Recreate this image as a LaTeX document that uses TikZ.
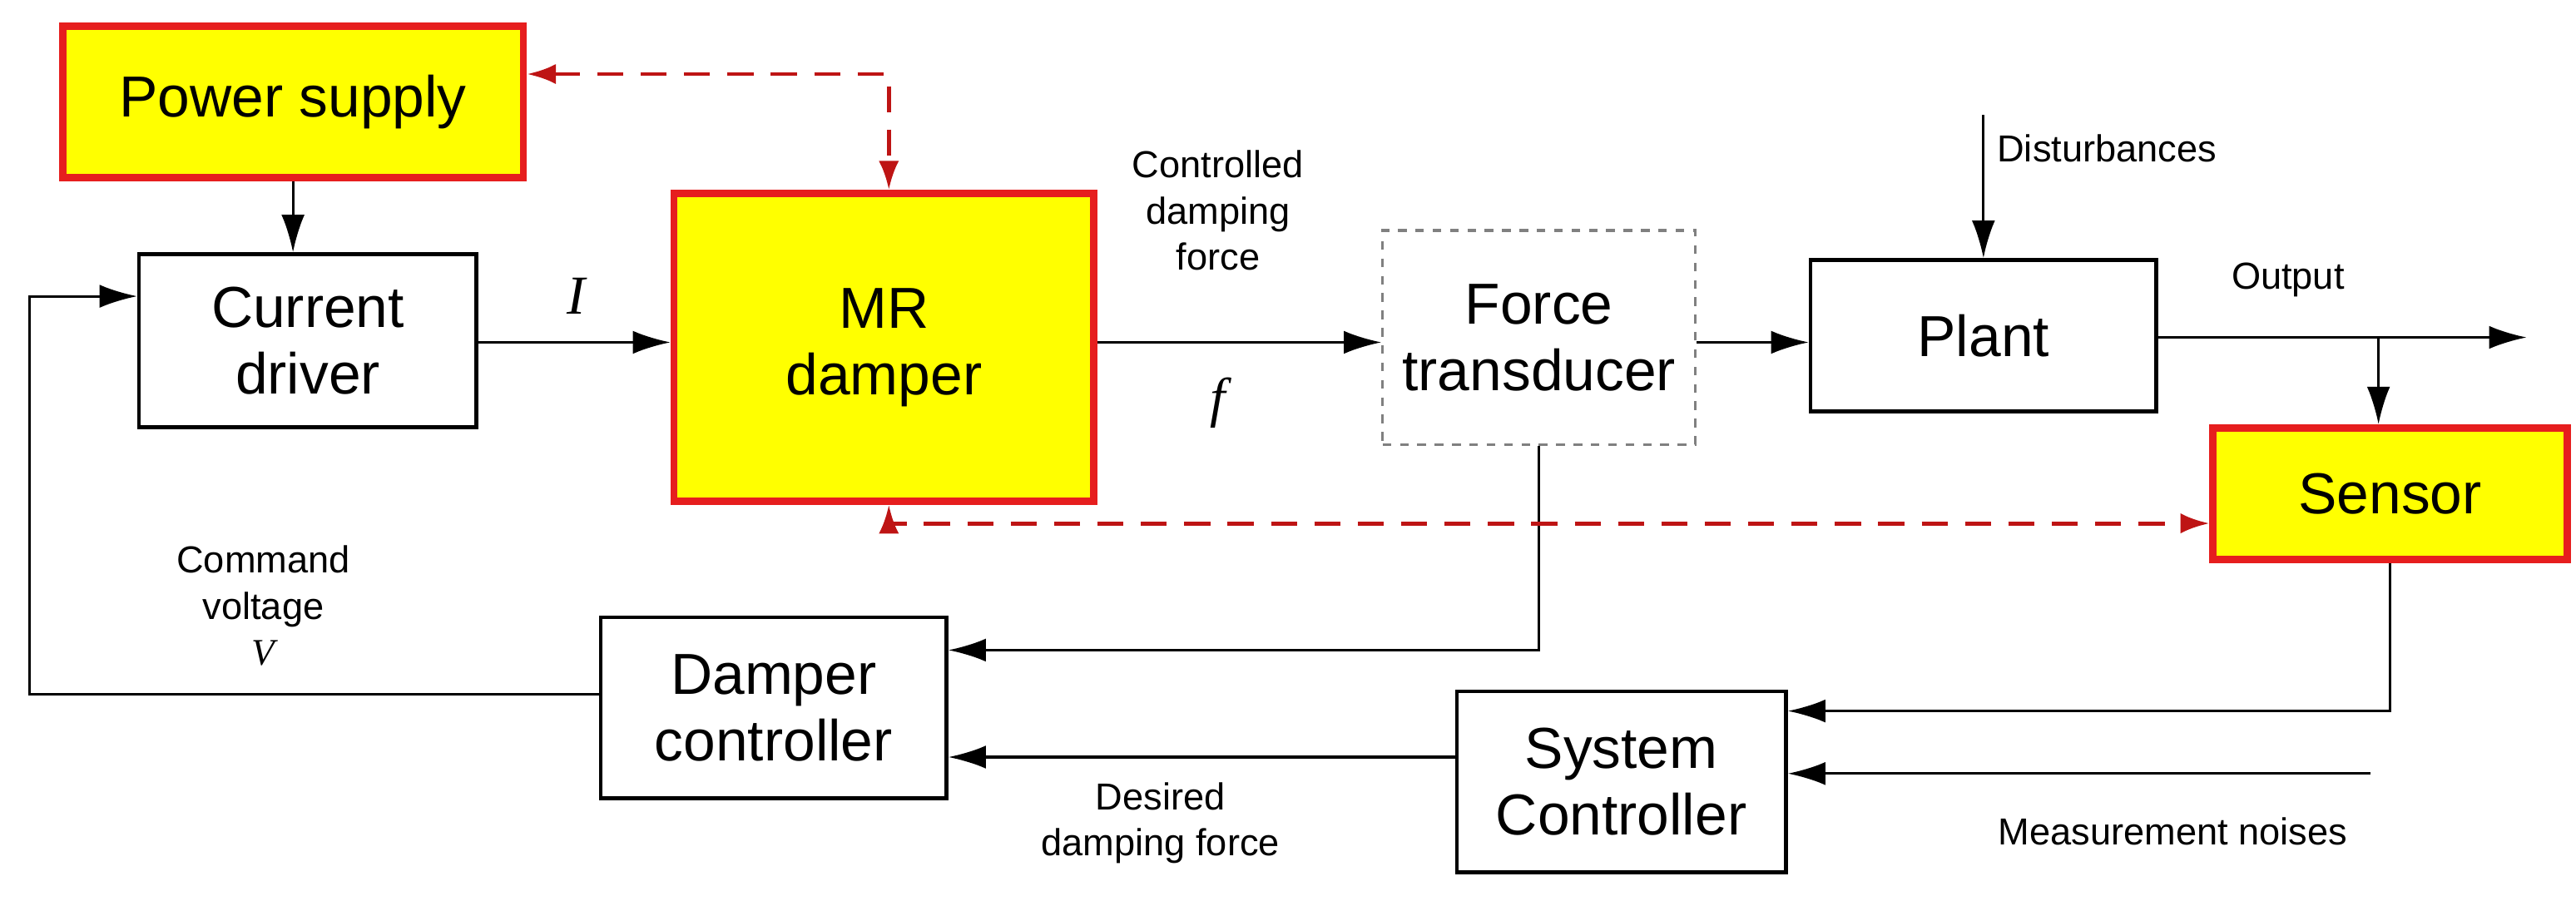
\documentclass[tikz,border=0pt]{standalone}
\usepackage{fontspec}
\setmainfont{Liberation Sans}
\usetikzlibrary{arrows.meta}
\definecolor{yel}{RGB}{255,255,0}
\definecolor{rd}{RGB}{230,30,30}
\definecolor{drd}{RGB}{190,20,20}
\begin{document}
\begin{tikzpicture}[x=0.02cm,y=-0.02cm,
 blk/.style={draw,line width=1.3pt,align=center,font=\fontsize{20}{23}\selectfont,inner sep=0},
 hl/.style={blk,fill=yel,draw=rd,line width=2.5pt},
 ln/.style={line width=0.9pt,-{Latex[length=13pt,width=8pt]}},
 rdl/.style={draw=drd,line width=1.4pt,dash pattern=on 9pt off 6pt,{Latex[length=10pt,width=7pt]}-{Latex[length=10pt,width=7pt]}},
 lab/.style={font=\fontsize{13}{16}\selectfont,align=center}]
\useasboundingbox (0,0) rectangle (1565,550);
\node[hl,minimum width=280*0.02cm,minimum height=92*0.02cm] (ps) at (178,62) {Power supply};
\node[blk,minimum width=205*0.02cm,minimum height=105*0.02cm] (cd) at (187,207) {Current\\driver};
\node[hl,minimum width=255*0.02cm,minimum height=187*0.02cm] (mr) at (537,211) {MR\\damper};
\node[blk,draw=gray,dashed,line width=0.9pt,minimum width=190*0.02cm,minimum height=130*0.02cm] (ft) at (935,205) {Force\\transducer};
\node[blk,minimum width=210*0.02cm,minimum height=92*0.02cm] (pl) at (1205,204) {Plant};
\node[hl,minimum width=215*0.02cm,minimum height=80*0.02cm] (se) at (1452,300) {Sensor};
\node[blk,minimum width=210*0.02cm,minimum height=110*0.02cm] (dc) at (470,430) {Damper\\controller};
\node[blk,minimum width=200*0.02cm,minimum height=110*0.02cm] (sc) at (985,475) {System\\Controller};
\coordinate (dist) at (1205,70);
\coordinate (out) at (1535,205);
\coordinate (mn) at (1440,470);
\coordinate (fb) at (18,180);
\draw[ln] (ps.south) -- (cd.north-|ps.south);
\draw[ln] (cd.east|-0,208) -- (mr.west|-0,208);
\draw[ln] (mr.east|-0,208) -- (ft.west|-0,208);
\draw[ln] (ft.east|-0,208) -- (pl.west|-0,208);
\draw[ln] (pl.east|-0,205) -- (out);
\draw[ln] (1445,205) -- (se.north-|1445,0);
\draw[ln] (dist) -- (pl.north);
\draw[ln] (ft.south) |- (dc.east|-0,395);
\draw[ln] (se.south) |- (sc.east|-0,432);
\draw[ln] (mn) -- (sc.east|-mn);
\draw[ln] (sc.west|-0,460) -- (dc.east|-0,460);
\draw[ln] (dc.west|-0,422) -| (fb) -- (cd.west|-fb);
\draw[rdl] (ps.east|-0,45) -| (mr.north-|540,0);
\draw[rdl] (mr.south-|540,0) |- (se.west|-0,318);
\node[lab] at (350,180) {\fontsize{19}{20}\selectfont\fontspec{Liberation Serif}\itshape I};
\node[lab] at (740,128) {Controlled\\damping\\force};
\node[lab] at (740,245) {\fontsize{19}{20}\selectfont\fontspec{Liberation Serif}\itshape f};
\node[lab] at (1280,90) {Disturbances};
\node[lab] at (1390,170) {Output};
\node[lab] at (160,368) {Command\\voltage\\{\fontspec{Liberation Serif}\itshape V}};
\node[lab] at (705,500) {Desired\\damping force};
\node[lab] at (1320,505) {Measurement noises};
\end{tikzpicture}
\end{document}
